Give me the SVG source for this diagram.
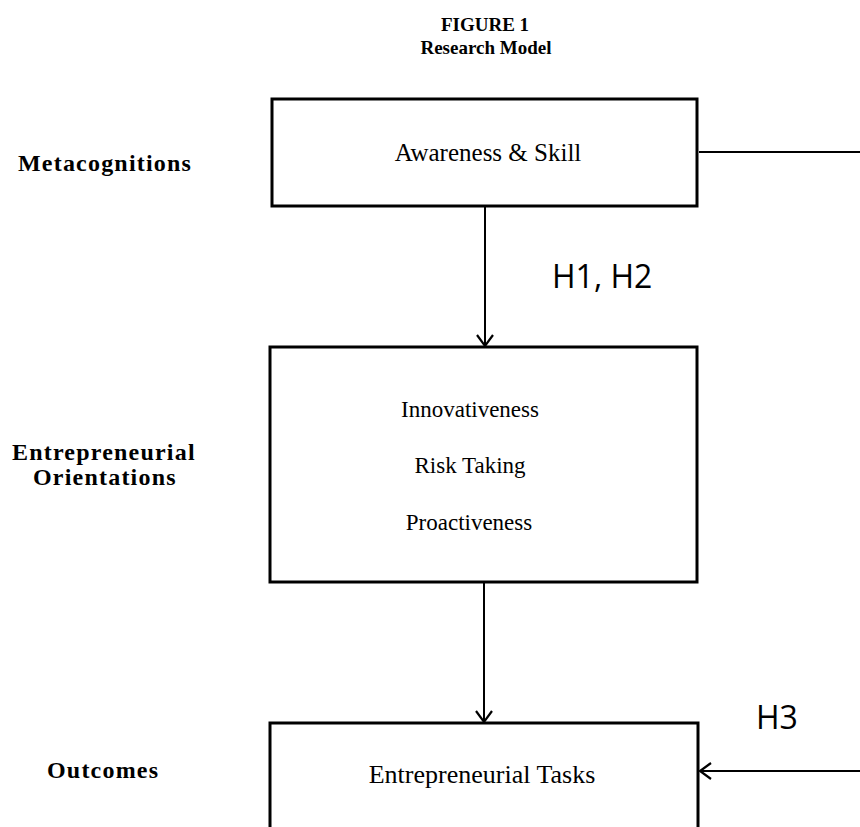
<svg xmlns="http://www.w3.org/2000/svg" width="860" height="827" viewBox="0 0 860 827">
<style>
.box{fill:#fff;stroke:#000;stroke-width:3}
.con{stroke:#000;stroke-width:2;fill:none}
.t{font-family:"Liberation Serif","Times New Roman",serif;font-size:23px;fill:#000;text-anchor:middle}
.lab{font-family:"Liberation Serif","Times New Roman",serif;font-size:24px;font-weight:bold;fill:#000;letter-spacing:1.2px}
.ttl{font-family:"Liberation Serif","Times New Roman",serif;font-size:19px;font-weight:bold;fill:#000;text-anchor:middle}
.h{font-family:"Open Sans","DejaVu Sans",sans-serif;font-size:32px;fill:#000}
</style>
<defs>
<marker id="arr" markerUnits="userSpaceOnUse" markerWidth="24" markerHeight="24" viewBox="-12 -12 24 24" refX="0" refY="0" orient="auto">
<path d="M-11,-8 L0,0 L-11,8" fill="none" stroke="#000" stroke-width="2.2"/>
</marker>
</defs>
<rect width="860" height="827" fill="#fff"/>
<g id="title">
<text class="ttl" x="485" y="31">FIGURE 1</text>
<text class="ttl" x="486" y="54">Research Model</text>
</g>
<g id="labels">
<text class="lab" x="18" y="171">Metacognitions</text>
<text class="lab" x="12" y="460">Entrepreneurial</text>
<text class="lab" x="33" y="485">Orientations</text>
<text class="lab" x="47" y="778">Outcomes</text>
</g>
<g id="connectors">
<line class="con" x1="485" y1="207" x2="485" y2="346" marker-end="url(#arr)"/>
<line class="con" x1="484" y1="583" x2="484" y2="722" marker-end="url(#arr)"/>
<line class="con" x1="699" y1="152" x2="860" y2="152"/>
<line class="con" x1="860" y1="771" x2="700" y2="771" marker-end="url(#arr)"/>
<text class="h" x="552" y="288">H1, H2</text>
<text class="h" x="756" y="729">H3</text>
</g>
<g id="awareness">
<rect class="box" x="272" y="99" width="425" height="107"/>
<text class="t" x="488" y="161" style="font-size:25px">Awareness &amp; Skill</text>
</g>
<g id="orientations">
<rect class="box" x="270" y="347" width="427" height="235"/>
<text class="t" x="470" y="417">Innovativeness</text>
<text class="t" x="470" y="473">Risk Taking</text>
<text class="t" x="469" y="530">Proactiveness</text>
</g>
<g id="tasks">
<rect class="box" x="270" y="723" width="428" height="120"/>
<text class="t" x="482" y="783" style="font-size:26px">Entrepreneurial Tasks</text>
</g>
</svg>
